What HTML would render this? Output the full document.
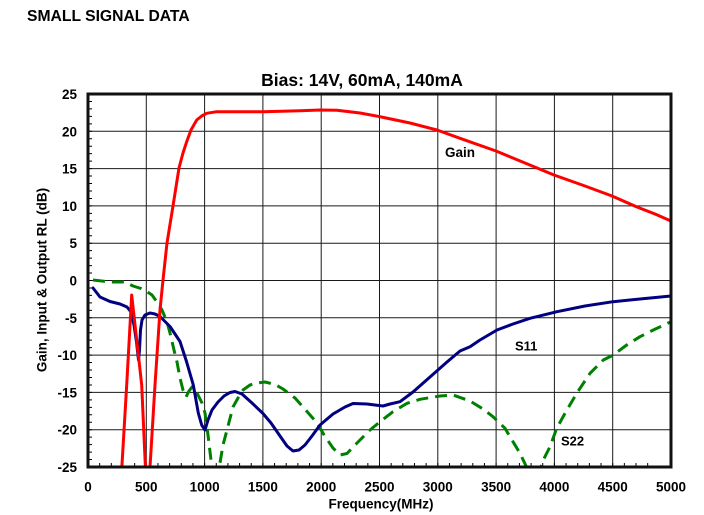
<!DOCTYPE html>
<html><head><meta charset="utf-8"><style>
html,body{margin:0;padding:0;background:#fff;}
svg{display:block;}
text{font-family:"Liberation Sans",Arial,sans-serif;font-weight:bold;fill:#000;}
</style></head><body>
<svg width="704" height="515" viewBox="0 0 704 515" xmlns="http://www.w3.org/2000/svg">
<defs><clipPath id="pc"><rect x="88" y="94" width="583" height="373"/></clipPath></defs>
<text x="27" y="21" font-size="15.7">SMALL SIGNAL DATA</text>
<text x="362" y="86" font-size="17.5" text-anchor="middle">Bias: 14V, 60mA, 140mA</text>
<g stroke="#1a1a1a" stroke-width="1" fill="none">
<path d="M88,131.3H671M88,168.6H671M88,205.9H671M88,243.2H671M88,280.5H671M88,317.8H671M88,355.1H671M88,392.4H671M88,429.7H671"/>
<path d="M146.3,94V467M204.6,94V467M262.9,94V467M321.2,94V467M379.5,94V467M437.8,94V467M496.1,94V467M554.4,94V467M612.7,94V467"/>
</g>
<g stroke="#000" stroke-width="1" fill="none">
<path d="M88,94h4m-4,7.46h4m-4,7.46h4m-4,7.46h4m-4,7.46h4m-4,7.46h4m-4,7.46h4m-4,7.46h4m-4,7.46h4m-4,7.46h4m-4,7.46h4m-4,7.46h4m-4,7.46h4m-4,7.46h4m-4,7.46h4m-4,7.46h4m-4,7.46h4m-4,7.46h4m-4,7.46h4m-4,7.46h4m-4,7.46h4m-4,7.46h4m-4,7.46h4m-4,7.46h4m-4,7.46h4m-4,7.46h4m-4,7.46h4m-4,7.46h4m-4,7.46h4m-4,7.46h4m-4,7.46h4m-4,7.46h4m-4,7.46h4m-4,7.46h4m-4,7.46h4m-4,7.46h4m-4,7.46h4m-4,7.46h4m-4,7.46h4m-4,7.46h4m-4,7.46h4m-4,7.46h4m-4,7.46h4m-4,7.46h4m-4,7.46h4m-4,7.46h4m-4,7.46h4m-4,7.46h4m-4,7.46h4m-4,7.46h4"/>
<path d="M88,467v-4m11.66,4v-4m11.66,4v-4m11.66,4v-4m11.66,4v-4m11.66,4v-4m11.66,4v-4m11.66,4v-4m11.66,4v-4m11.66,4v-4m11.66,4v-4m11.66,4v-4m11.66,4v-4m11.66,4v-4m11.66,4v-4m11.66,4v-4m11.66,4v-4m11.66,4v-4m11.66,4v-4m11.66,4v-4m11.66,4v-4m11.66,4v-4m11.66,4v-4m11.66,4v-4m11.66,4v-4m11.66,4v-4m11.66,4v-4m11.66,4v-4m11.66,4v-4m11.66,4v-4m11.66,4v-4m11.66,4v-4m11.66,4v-4m11.66,4v-4m11.66,4v-4m11.66,4v-4m11.66,4v-4m11.66,4v-4m11.66,4v-4m11.66,4v-4m11.66,4v-4m11.66,4v-4m11.66,4v-4m11.66,4v-4m11.66,4v-4m11.66,4v-4m11.66,4v-4m11.66,4v-4m11.66,4v-4"/>
</g>
<g clip-path="url(#pc)" fill="none" stroke-linejoin="round" stroke-linecap="round">
<path stroke="#008000" stroke-width="3" stroke-dasharray="12 7" stroke-linecap="butt" d="M93,280 L110,282 L125,282 L133,286 L141,288.5 L146,291 L152,295 L157,302 L162,310 L167,322 L170,333 L174,350 L177,362 L180,378 L183,390 L186,397 L189,391 L192,387 L197,393 L202,403 L205,413 L208,435 L211,460 L214,482 L217,482 L220,463 L223,445 L227,430 L233,407 L238,398 L243,390 L250,385 L257,383 L265,382 L275,384.5 L283,389 L295,398 L307,411.5 L317,423 L325,436.5 L333,448 L340,455 L347,453.5 L357,443 L370,430 L380,421.7 L393,411.7 L407,403.3 L420,399.3 L440,396 L453,395 L470,401 L483,409 L493,416.7 L505,428.3 L513,441.7 L520,453.3 L527,468 L534,484 L540,470 L543.3,460 L550,446.7 L556.7,428.3 L565,413.3 L576.7,393.3 L590,373.3 L603.3,360 L613.3,355 L626.7,345 L640,336.7 L653.3,330 L671,321.7"/>
<path stroke="#000080" stroke-width="3" d="M93,288 L100,297 L110,301.5 L120,304 L127,307 L131,312 L134,325 L136.5,342 L138.5,360 L139.5,350 L140.5,330 L142,320 L145,315 L150,313 L155,314 L160,316.5 L170,326.5 L180,341.5 L186.5,361.5 L193.3,385 L198.3,413 L201.7,425 L205,430 L208,420 L212,410 L218,402 L224,396 L230,392.5 L235,391.5 L242,394 L252,403 L263,413.5 L271,423 L280,436 L287,446 L293,451 L299,450 L305,445 L312,436 L320,425 L333,414 L345,407 L353,403.5 L367,404 L375,405 L383,406 L390,404 L400,401.7 L413,392 L430,377 L447,362 L460,351 L470,346.7 L480,340 L497,330 L513,324 L530,318.3 L557,311.7 L585,306 L613,301.7 L640,299 L671,296"/>
<path stroke="#ff0000" stroke-width="3" d="M120.5,490 L126.7,385 L131.7,295 L141.7,385 L146,480 M148,490 L150,467 L155,385 L160,310 L163,280 L167,243 L173,206 L179,168 L183,153 L186.7,141.7 L191,130 L196.7,120 L201.7,116 L206.7,113.3 L216.7,111.7 L263,111.7 L300,110.7 L320,110 L337,110.3 L360,113 L380,116.7 L410,123 L437,130 L460,138.3 L496,151 L525,163 L554,175 L585,186 L612,196 L637,207 L655,214 L671,221"/>
</g>
<rect x="88" y="94" width="583" height="373" fill="none" stroke="#111" stroke-width="3"/>
<g font-size="13.5" text-anchor="end">
<text x="77" y="99">25</text><text x="77" y="136.3">20</text><text x="77" y="173.6">15</text><text x="77" y="210.9">10</text><text x="77" y="248.2">5</text><text x="77" y="285.5">0</text><text x="77" y="322.8">-5</text><text x="77" y="360.1">-10</text><text x="77" y="397.4">-15</text><text x="77" y="434.7">-20</text><text x="77" y="472">-25</text>
</g>
<g font-size="13.5" text-anchor="middle">
<text x="88" y="491.5">0</text><text x="146.3" y="491.5">500</text><text x="204.6" y="491.5">1000</text><text x="262.9" y="491.5">1500</text><text x="321.2" y="491.5">2000</text><text x="379.5" y="491.5">2500</text><text x="437.8" y="491.5">3000</text><text x="496.1" y="491.5">3500</text><text x="554.4" y="491.5">4000</text><text x="612.7" y="491.5">4500</text><text x="671" y="491.5">5000</text>
<text x="381" y="508.5">Frequency(MHz)</text>
<text transform="translate(46.5,280) rotate(-90)">Gain, Input &amp; Output RL (dB)</text>
</g>
<text x="445" y="157" font-size="13.5">Gain</text>
<text x="515" y="350.5" font-size="13">S11</text>
<text x="561" y="445.5" font-size="13">S22</text>
</svg>
</body></html>
